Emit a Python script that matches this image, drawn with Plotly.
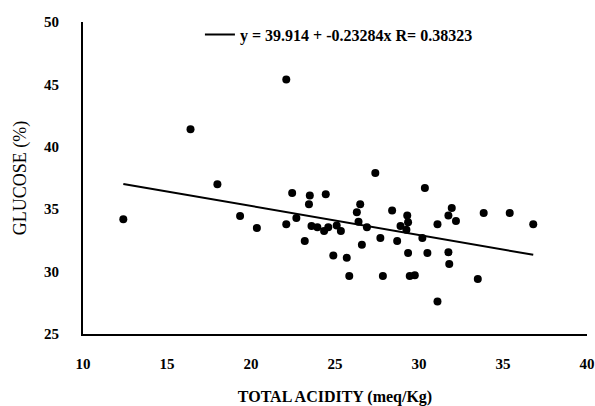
import plotly.graph_objects as go

# Data
acidity = [12.4, 16.4, 18.0, 19.35, 20.35, 22.1, 22.1, 22.45, 22.7, 23.2,
           23.5, 23.45, 23.6, 23.95, 24.35, 24.45, 24.6, 24.9, 25.1, 25.35,
           25.7, 25.85, 26.3, 26.5, 26.4, 26.6, 26.9, 27.4, 27.7, 27.85,
           28.4, 28.7, 28.9, 29.3, 29.35, 29.25, 29.35, 29.45, 29.75, 30.2,
           30.35, 30.5, 31.1, 31.1, 31.75, 31.8, 31.75, 31.95, 32.2, 33.5,
           33.85, 35.4, 36.8]
glucose = [34.2, 41.4, 37.0, 34.45, 33.5, 45.4, 33.8, 36.3, 34.3, 32.45,
           36.1, 35.4, 33.65, 33.55, 33.25, 36.2, 33.55, 31.3, 33.7, 33.25,
           31.1, 29.65, 34.75, 35.4, 34.0, 32.15, 33.55, 37.9, 32.7, 29.65,
           34.9, 32.45, 33.65, 34.5, 33.95, 33.35, 31.5, 29.65, 29.7, 32.7,
           36.7, 31.5, 33.8, 27.6, 31.55, 30.6, 34.5, 35.1, 34.05, 29.4,
           34.7, 34.7, 33.8]

intercept = 39.914
slope = -0.23284
r_value = 0.38323

x_ticks = [10, 15, 20, 25, 30, 35, 40]
y_ticks = [25, 30, 35, 40, 45, 50]

fit_x = [min(acidity), max(acidity)]
fit_y = [intercept + slope * v for v in fit_x]

serif = "Liberation Serif, Times New Roman, serif"

fig = go.Figure()
fig.add_trace(go.Scatter(
    x=acidity, y=glucose, mode="markers",
    marker=dict(color="black", size=8),
    showlegend=False, name="data"))
fig.add_trace(go.Scatter(
    x=fit_x, y=fit_y, mode="lines",
    line=dict(color="black", width=2),
    name=f"y = {intercept} + {slope}x R= {r_value}",
    showlegend=True))

fig.update_layout(
    width=595, height=406,
    margin=dict(l=83, r=8, t=22, b=72, autoexpand=False),
    paper_bgcolor="white", plot_bgcolor="white",
    font=dict(family=serif, color="black"),
    legend=dict(x=0.232, y=0.96, xanchor="left", yanchor="middle",
                font=dict(family=serif, size=16, color="black", weight="bold"),
                bgcolor="rgba(0,0,0,0)"),
    xaxis=dict(range=[10, 40], tickvals=x_ticks, automargin=False,
               showgrid=False, zeroline=False, showline=True,
               linecolor="black", linewidth=2, ticks="",
               ticklabelstandoff=15,
               tickfont=dict(family=serif, size=15, color="black", weight="bold"),
               title=dict(text="TOTAL ACIDITY (meq/Kg)",
                          font=dict(family=serif, size=16, color="black", weight="bold"),
                          standoff=26)),
    yaxis=dict(range=[25, 50], tickvals=y_ticks, automargin=False,
               showgrid=False, zeroline=False, showline=True,
               linecolor="black", linewidth=2, ticks="",
               ticklabelstandoff=19,
               tickfont=dict(family=serif, size=15, color="black", weight="bold"),
               title=dict(text="GLUCOSE (%)",
                          font=dict(family=serif, size=18, color="black"),
                          standoff=13)),
)

fig.write_html("out.html", config={"displayModeBar": False},
               post_script="document.body.style.margin='0px';")
